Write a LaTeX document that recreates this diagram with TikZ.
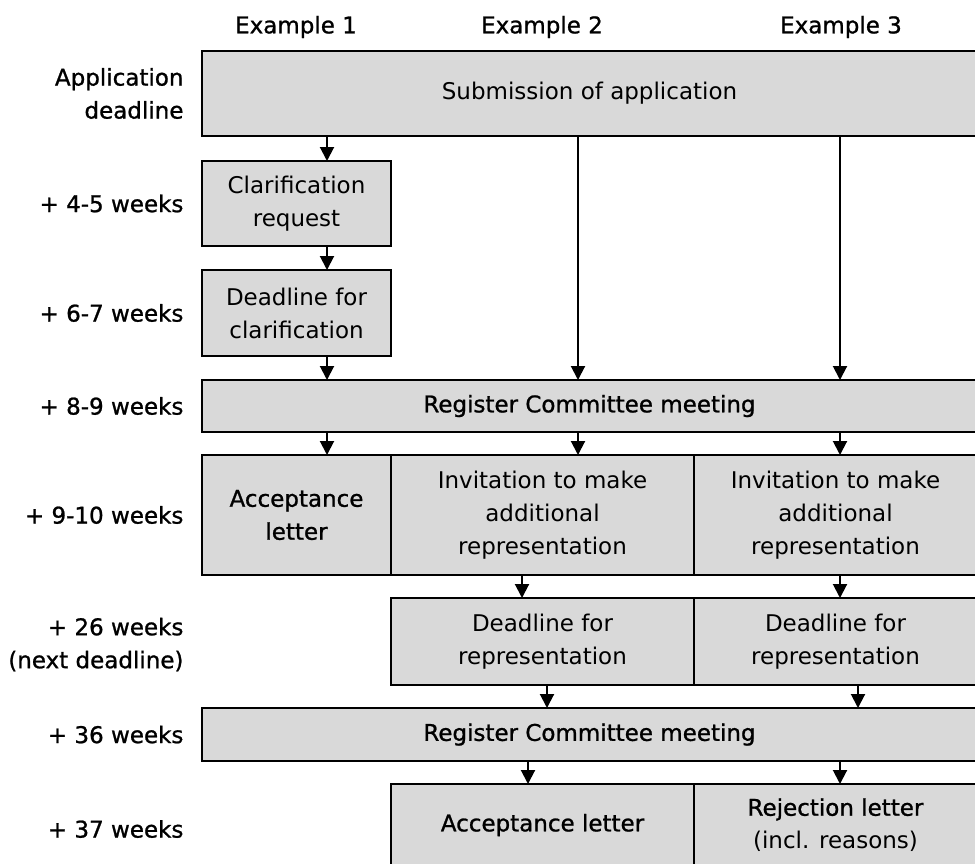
\documentclass[tikz,border=0pt]{standalone}
\usepackage{fontspec}
\setmainfont{DejaVu Sans}
\newfontfamily\medfont{DejaVu Sans}[FakeBold=1]
\usetikzlibrary{arrows.meta,positioning}

\definecolor{boxgray}{RGB}{217,217,217}
\newcommand{\normtext}{\fontsize{23}{33}\selectfont}
\newcommand{\medtext}{\medfont\fontsize{23}{33}\selectfont}

\tikzset{
  box/.style={draw, line width=2pt, fill=boxgray, inner sep=0pt, outer sep=0pt, align=center},
  lab/.style={align=right, font=\medtext},
  arr/.style={line width=2pt, -{Triangle[length=14pt,width=14pt]}}
}

\begin{document}
\begin{tikzpicture}[x=1pt, y=-1pt, every node/.style={font=\normtext}]
        \useasboundingbox (0,0) rectangle (975,863);
        % arrow columns
        \coordinate (x1) at (327,0);
        \coordinate (x2) at (578,0);
        \coordinate (x3) at (840,0);
        \coordinate (y1) at (522,0);
        \coordinate (z1) at (547,0);
        \coordinate (z2) at (858,0);
        \coordinate (w1) at (528,0);

        % headers
        \node[font=\medtext] (ex1) at (296,27) {Example 1};
        \node[font=\medtext] (ex2) at (542,27) {Example 2};
        \node[font=\medtext] (ex3) at (841,27) {Example 3};

        % boxes
        \node[box, minimum width=775pt, minimum height=85pt] (sub) at (589.5,93.5) {Submission of application};
        \node[box, minimum width=189pt, minimum height=85pt] (clar) at (296.5,203.5) {Clarification\\request};
        \node[box, minimum width=189pt, minimum height=86pt] (dlc) at (296.5,313) {Deadline for\\clarification};
        \node[box, minimum width=775pt, minimum height=52pt, font=\medtext] (rc1) at (589.5,406) {Register Committee meeting};
        \node[box, minimum width=189pt, minimum height=120pt, font=\medtext] (acc1) at (296.5,515) {Acceptance\\letter};
        \node[box, minimum width=303pt, minimum height=120pt] (inv1) at (542.5,515) {Invitation to make\\additional\\representation};
        \node[box, minimum width=283pt, minimum height=120pt] (inv2) at (835.5,515) {Invitation to make\\additional\\representation};
        \node[box, minimum width=303pt, minimum height=87pt] (dr1) at (542.5,641.5) {Deadline for\\representation};
        \node[box, minimum width=283pt, minimum height=87pt] (dr2) at (835.5,641.5) {Deadline for\\representation};
        \node[box, minimum width=775pt, minimum height=53pt, font=\medtext] (rc2) at (589.5,734.5) {Register Committee meeting};
        \node[box, minimum width=303pt, minimum height=82pt, font=\medtext] (fin1) at (542.5,825) {Acceptance letter};
        \node[box, minimum width=283pt, minimum height=82pt] (fin2) at (835.5,825) {{\medfont Rejection letter}\\(incl. reasons)};

        % time labels
        \node[lab, left=15pt of sub.west] (t0) {Application\\deadline};
        \node[lab, left=15pt of clar.west] (t1) {+ 4-5 weeks};
        \node[lab, left=15pt of dlc.west] (t2) {+ 6-7 weeks};
        \node[lab, left=15pt of rc1.west] (t3) {+ 8-9 weeks};
        \node[lab, left=15pt of acc1.west] (t4) {+ 9-10 weeks};
        \node[lab, left=15pt of dr1.west -| acc1.west, yshift=-3pt] (t5) {+ 26 weeks\\(next deadline)};
        \node[lab, left=15pt of rc2.west] (t6) {+ 36 weeks};
        \node[lab, left=15pt of fin1.west -| acc1.west, yshift=-4pt] (t7) {+ 37 weeks};

        % connectors
        \draw[arr] (sub.south -| x1) -- (clar.north -| x1);
        \draw[arr] (clar.south -| x1) -- (dlc.north -| x1);
        \draw[arr] (dlc.south -| x1) -- (rc1.north -| x1);
        \draw[arr] (sub.south -| x2) -- (rc1.north -| x2);
        \draw[arr] (sub.south -| x3) -- (rc1.north -| x3);
        \draw[arr] (rc1.south -| x1) -- (acc1.north -| x1);
        \draw[arr] (rc1.south -| x2) -- (inv1.north -| x2);
        \draw[arr] (rc1.south -| x3) -- (inv2.north -| x3);
        \draw[arr] (inv1.south -| y1) -- (dr1.north -| y1);
        \draw[arr] (inv2.south -| x3) -- (dr2.north -| x3);
        \draw[arr] (dr1.south -| z1) -- (rc2.north -| z1);
        \draw[arr] (dr2.south -| z2) -- (rc2.north -| z2);
        \draw[arr] (rc2.south -| w1) -- (fin1.north -| w1);
        \draw[arr] (rc2.south -| x3) -- (fin2.north -| x3);
    \end{tikzpicture}
\end{document}
